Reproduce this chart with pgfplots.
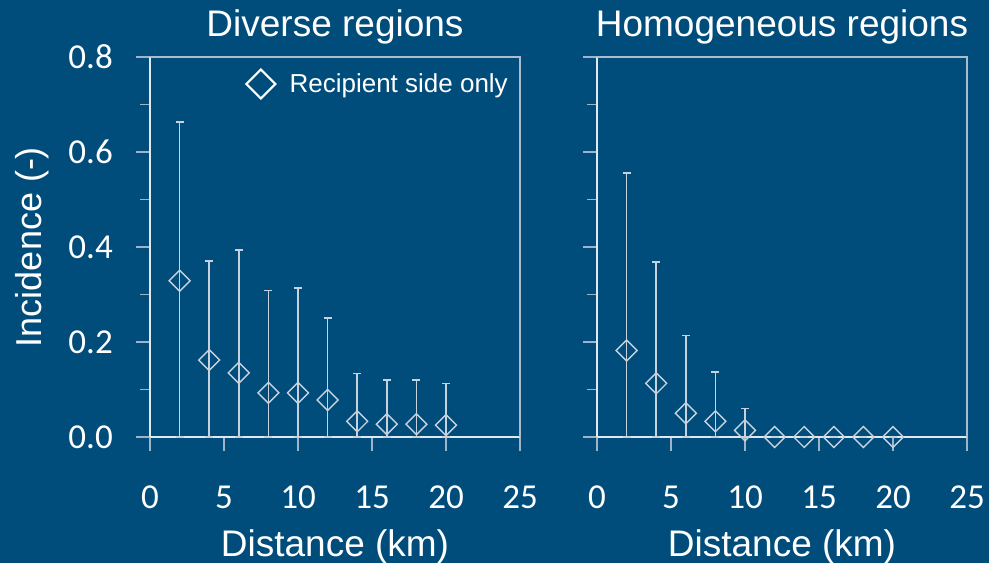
\documentclass[border=0pt]{standalone}
\usepackage{pgfplots}
\pgfplotsset{compat=1.18}
\usepackage{pgfplotstable}
\usepackage{fontspec}
\setmainfont{Liberation Sans}
\newfontfamily\carlito{Carlito}
\definecolor{bgc}{RGB}{0,77,123}
\definecolor{axc}{RGB}{225,232,240}
\definecolor{boxc}{RGB}{170,188,206}
\definecolor{tickc}{RGB}{160,180,200}
\definecolor{datc}{RGB}{200,210,222}

\pgfplotstableread{
x y ep em
2 0.329 0.334 0.329
4 0.162 0.209 0.162
6 0.135 0.259 0.135
8 0.093 0.215 0.093
10 0.093 0.221 0.093
12 0.078 0.173 0.078
14 0.033 0.101 0.033
16 0.027 0.093 0.027
18 0.027 0.093 0.027
20 0.025 0.088 0.025
}\diverse

\pgfplotstableread{
x y ep em
2 0.182 0.374 0.182
4 0.113 0.255 0.113
6 0.050 0.164 0.050
8 0.033 0.104 0.033
10 0.014 0.046 0.014
12 0 0 0
14 0 0 0
16 0 0 0
18 0 0 0
20 0 0 0
}\homog

\pgfplotsset{
 panel/.style={
  scale only axis, width=370bp, height=380bp,
  anchor=south west,
  xmin=0, xmax=25, ymin=0, ymax=0.8,
  axis lines=left, axis line style={-, draw=axc, line width=1.5bp},
  xtick={0,5,...,25}, ytick={0,0.2,0.4,0.6,0.8}, minor ytick={0.1,0.3,0.5,0.7},
  tick align=outside, major tick length=14bp, minor tick length=10bp,
  tick style={draw=tickc, line width=1.5bp},
  /pgf/number format/assume math mode=true,
  tick label style={font=\carlito\fontsize{35bp}{37bp}\selectfont, text=white, inner sep=0pt},
  yticklabel style={/pgf/number format/.cd, fixed, fixed zerofill, precision=1, /tikz/.cd, anchor=east, xshift=-23bp},
  xticklabel style={anchor=north, yshift=-35bp},
  title style={font=\fontsize{37bp}{40bp}\selectfont, text=white, at={(0.5,1)}, anchor=base, yshift=15bp, inner sep=0pt},
  xlabel style={font=\fontsize{37bp}{40bp}\selectfont, text=white, at={(0.5,0)}, anchor=base, yshift=-119bp, inner sep=0pt},
  ylabel style={font=\fontsize{36bp}{40bp}\selectfont, text=white, at={(0,0.5)}, anchor=center, yshift=118bp, inner sep=0pt},
  clip=false,
  xlabel={Distance (km)},
 },
 dat/.style={only marks, mark=square, mark size=7.4bp,
  mark options={rotate=45, draw=datc, fill=none, line width=1.4bp},
  error bars/.cd, y dir=both, y explicit, error mark=-,
  error bar style={draw=datc, line width=1.5bp},
  error mark options={draw=datc, line width=1.5bp, mark size=4bp, rotate=90},
  /pgfplots/.cd},
}

\begin{document}
\begin{tikzpicture}
\fill[bgc] (0,0) rectangle (989bp,563bp);

\begin{axis}[panel, at={(150bp,126bp)}, title={Diverse regions}, ylabel={Incidence (-)},
  legend style={draw=none, fill=none, at={(0.9676,0.9289)}, anchor=east, inner sep=0pt,
    font=\fontsize{26bp}{30bp}\selectfont, text=white,
    nodes={inner sep=0pt}},
  legend cell align=left]
\addlegendimage{legend image code/.code={\draw[white, line width=2bp] (14.5bp,14.5bp) -- (29bp,0bp) -- (14.5bp,-14.5bp) -- (0bp,0bp) -- cycle; \path (43bp,0bp);}}
\addlegendentry{Recipient side only}
\addplot[dat, forget plot] table[x=x, y=y, y error plus=ep, y error minus=em] {\diverse};
\draw[boxc, line width=1.5bp] (rel axis cs:0,1) -- (rel axis cs:1,1) -- (rel axis cs:1,0);
\end{axis}

\begin{axis}[panel, at={(597bp,126bp)}, title={Homogeneous regions}, yticklabels={}]
\addplot[dat] table[x=x, y=y, y error plus=ep, y error minus=em] {\homog};
\draw[boxc, line width=1.5bp] (rel axis cs:0,1) -- (rel axis cs:1,1) -- (rel axis cs:1,0);
\end{axis}

\pgfresetboundingbox
\path[use as bounding box] (0,0) rectangle (989bp,563bp);
\end{tikzpicture}
\end{document}
